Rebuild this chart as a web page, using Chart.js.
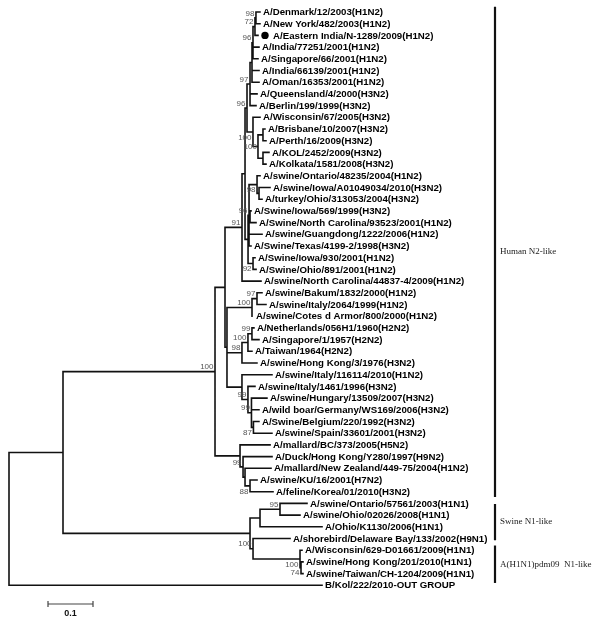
<!DOCTYPE html>
<html><head><meta charset="utf-8">
<script src="https://cdn.jsdelivr.net/npm/chart.js@4.4.1/dist/chart.umd.min.js"></script>
<style>html,body{margin:0;padding:0;background:#fff}#wrap{width:600px;height:624px;position:relative}</style>
</head><body><div id="wrap"><canvas id="c"></canvas></div>
<script>
// ---------------- data ----------------
const leafNames = [
 "A/Denmark/12/2003(H1N2)","A/New York/482/2003(H1N2)","A/Eastern India/N-1289/2009(H1N2)",
 "A/India/77251/2001(H1N2)","A/Singapore/66/2001(H1N2)","A/India/66139/2001(H1N2)",
 "A/Oman/16353/2001(H1N2)","A/Queensland/4/2000(H3N2)","A/Berlin/199/1999(H3N2)",
 "A/Wisconsin/67/2005(H3N2)","A/Brisbane/10/2007(H3N2)","A/Perth/16/2009(H3N2)",
 "A/KOL/2452/2009(H3N2)","A/Kolkata/1581/2008(H3N2)","A/swine/Ontario/48235/2004(H1N2)",
 "A/swine/Iowa/A01049034/2010(H3N2)","A/turkey/Ohio/313053/2004(H3N2)","A/Swine/Iowa/569/1999(H3N2)",
 "A/Swine/North Carolina/93523/2001(H1N2)","A/swine/Guangdong/1222/2006(H1N2)","A/Swine/Texas/4199-2/1998(H3N2)",
 "A/Swine/Iowa/930/2001(H1N2)","A/Swine/Ohio/891/2001(H1N2)","A/swine/North Carolina/44837-4/2009(H1N2)",
 "A/swine/Bakum/1832/2000(H1N2)","A/swine/Italy/2064/1999(H1N2)","A/swine/Cotes d Armor/800/2000(H1N2)",
 "A/Netherlands/056H1/1960(H2N2)","A/Singapore/1/1957(H2N2)","A/Taiwan/1964(H2N2)",
 "A/swine/Hong Kong/3/1976(H3N2)","A/swine/Italy/116114/2010(H1N2)","A/swine/Italy/1461/1996(H3N2)",
 "A/swine/Hungary/13509/2007(H3N2)","A/wild boar/Germany/WS169/2006(H3N2)","A/Swine/Belgium/220/1992(H3N2)",
 "A/swine/Spain/33601/2001(H3N2)","A/mallard/BC/373/2005(H5N2)","A/Duck/Hong Kong/Y280/1997(H9N2)",
 "A/mallard/New Zealand/449-75/2004(H1N2)","A/swine/KU/16/2001(H7N2)","A/feline/Korea/01/2010(H3N2)",
 "A/swine/Ontario/57561/2003(H1N1)","A/swine/Ohio/02026/2008(H1N1)","A/Ohio/K1130/2006(H1N1)",
 "A/shorebird/Delaware Bay/133/2002(H9N1)","A/Wisconsin/629-D01661/2009(H1N1)","A/swine/Hong Kong/201/2010(H1N1)",
 "A/swine/Taiwan/CH-1204/2009(H1N1)","B/Kol/222/2010-OUT GROUP"
];
// tree: leaves are indices into leafNames, internal labels are name#bootstrap, branch lengths in substitutions/site
const treeNewick = `
(
 (
  (
   (
    (
     (
      (
       (((((0:0.0089,1:0.0089)#98:0.0022,2:0.0067)#72:0.0044,3:0.0133,4:0.0111)#96:0.0022,5:0.0156,6:0.0156):0.0044,7:0.0156,8:0.0133)#97:0.0067,
       (9:0.0156,((10:0.0044,11:0.0067):0.0111,(12:0.0133,13:0.0067):0.0111)R4#100:0.0111)R3#100:0.0133
      )#96:0.0044,
      (
       ((14:0.0067,(15:0.0244,16:0.0067):0.0044)SWa#98:0.0178,(17:0.0022,18:0.0133):0.0022,19:0.0289,20:0.0044)#96:0.0022,
       (21:0.0044,22:0.0067)IO#92:0.0111
      ):0.0067
     ):0.0067,
     23:0.0422
    )#91:0.0378,
    (
     ((24:0.0111,25:0.02)#97:0.0111,26:0.0022)#100:0.0556,
     (((27:0.0044,28:0.0156)#99:0.0089,29:0.0089)#100:0.0133,30:0.0333)#98:0.0333,
     (31:0.0667,(32:0.0156,(33:0.0344,34:0.0167,(35:0.0122,36:0.0411)X3#87:0.0044)#99:0.0078)#99:0.0133):0.0333
    ):0.0044
   ):0.0222,
   (37:0.0667,(38:0.0644,(39:0.0578,(40:0.0156,41:0.0511)D#88:0.0111):0.0044)#99:0.0067):0.0556
  )#100:0.3378,
  (((42:0.06,43:0.0444)#95:0.0444,44:0.1378):0.0222,(45:0.0822,(46:0.0044,(47:0.0044,48:0.0044)R#74:0.0022)Q#100:0.1044)P#100:0.0067):0.4156
 ):0.12,
 49:0.6956
);`;
const markedLeaf = 2;
const cladeNames = ["Human N2-like", "Swine N1-like", "A(H1N1)pdm09  N1-like"];
const cladeFromRow = [-0.45, 42.05, 45.6];
const cladeToRow = [41.45, 45.15, 48.8];
const scaleBarLength = 0.1;
const scaleBarLabel = "0.1";

// ------------- label placement style -------------
const bootstrapSide = {R3:'below', R4:'mid', SWa:'below', IO:'below', X3:'below', D:'below', Q:'below', R:'below'};

// ------------- parse & layout -------------
function parseNewick(str){
  const s = str.replace(/\s+/g,'');
  let i = 0;
  function node(){
    const n = {children:[], name:'', support:null, len:0};
    if (s[i] === '('){
      i++;
      n.children.push(node());
      while (s[i] === ','){ i++; n.children.push(node()); }
      i++;
    }
    let lab = '';
    while (i < s.length && !':,);'.includes(s[i])) lab += s[i++];
    if (!n.children.length) n.leaf = parseInt(lab, 10);
    else if (lab){ const p = lab.split('#'); n.name = p[0]; if (p[1]) n.support = p[1]; }
    if (s[i] === ':'){ i++; let num=''; while (i < s.length && !',);'.includes(s[i])) num += s[i++]; n.len = parseFloat(num); }
    return n;
  }
  return node();
}
const root = parseNewick(treeNewick);
let leafCounter = 0;
const leaves = [], internals = [];
function layout(n, px){
  n.x = px + n.len;
  if (!n.children.length){ n.y = leafCounter++; leaves.push(n); }
  else {
    n.children.forEach(c => layout(c, n.x));
    n.y = (n.children[0].y + n.children[n.children.length-1].y) / 2;
    internals.push(n);
  }
}
layout(root, 0);
const pts = [];
function seg(x1,y1,x2,y2){ pts.push({x:x1,y:y1},{x:x2,y:y2},{x:x2,y:null}); }
function walk(n, parent){
  if (parent) seg(parent.x, n.y, n.x, n.y);
  if (n.children.length){
    seg(n.x, n.children[0].y, n.x, n.children[n.children.length-1].y);
    n.children.forEach(c => walk(c, n));
  }
}
walk(root, null);

// ------------- drawing of text -------------
const treeText = {
  id: 'treeText',
  afterDatasetsDraw(chart){
    const ctx = chart.ctx, xs = chart.scales.x, ys = chart.scales.y;
    ctx.save();
    // leaf labels
    ctx.fillStyle = '#000';
    ctx.font = 'bold 9.7px "Liberation Sans", Arial, sans-serif';
    ctx.textAlign = 'left'; ctx.textBaseline = 'middle';
    leaves.forEach(n => {
      const px = xs.getPixelForValue(n.x), py = ys.getPixelForValue(n.y);
      let tx = px + 3;
      if (n.leaf === markedLeaf){
        ctx.beginPath(); ctx.arc(px + 7, py, 3.7, 0, Math.PI*2); ctx.fill();
        tx = px + 15;
      }
      ctx.fillText(leafNames[n.leaf], tx, py + 0.5);
    });
    // bootstrap values
    ctx.fillStyle = '#555';
    ctx.font = '8px "Liberation Sans", Arial, sans-serif';
    ctx.textAlign = 'right';
    internals.forEach(n => {
      if (!n.support) return;
      const px = xs.getPixelForValue(n.x), py = ys.getPixelForValue(n.y);
      const side = bootstrapSide[n.name] || 'above';
      if (side === 'above'){ ctx.textBaseline = 'bottom'; ctx.fillText(n.support, px - 1.5, py - 0.5); }
      else if (side === 'below'){ ctx.textBaseline = 'top'; ctx.fillText(n.support, px - 1.5, py + 1.5); }
      else { ctx.textBaseline = 'middle'; ctx.fillText(n.support, px - 1, py); }
    });
    // clade brackets
    const bx = 495;
    ctx.strokeStyle = '#111'; ctx.lineWidth = 2.2; ctx.lineCap = 'butt';
    ctx.fillStyle = '#222';
    ctx.font = '9px "Liberation Serif", "Times New Roman", serif';
    ctx.textAlign = 'left'; ctx.textBaseline = 'middle';
    cladeNames.forEach((name, k) => {
      const y1 = ys.getPixelForValue(cladeFromRow[k]), y2 = ys.getPixelForValue(cladeToRow[k]);
      ctx.beginPath(); ctx.moveTo(bx, y1); ctx.lineTo(bx, y2); ctx.stroke();
      ctx.fillText(name, bx + 5, (y1 + y2) / 2);
    });
    // scale bar
    const sx0 = 48, sy = 604;
    const sx1 = sx0 + (xs.getPixelForValue(scaleBarLength) - xs.getPixelForValue(0));
    ctx.strokeStyle = '#444'; ctx.lineWidth = 1.2;
    ctx.beginPath();
    ctx.moveTo(sx0, sy); ctx.lineTo(sx1, sy);
    ctx.moveTo(sx0, sy - 3); ctx.lineTo(sx0, sy + 3);
    ctx.moveTo(sx1, sy - 3); ctx.lineTo(sx1, sy + 3);
    ctx.stroke();
    ctx.fillStyle = '#111';
    ctx.font = 'bold 9px "Liberation Sans", Arial, sans-serif';
    ctx.textAlign = 'center'; ctx.textBaseline = 'middle';
    ctx.fillText(scaleBarLabel, (sx0 + sx1) / 2, 614);
    ctx.restore();
  }
};

new Chart(document.getElementById('c'), {
  type: 'scatter',
  data: { datasets: [{
    data: pts, showLine: true, spanGaps: false,
    borderColor: '#111', borderWidth: 1.6, borderCapStyle: 'square',
    pointRadius: 0, pointHoverRadius: 0, fill: false
  }]},
  options: {
    animation: false, responsive: true, maintainAspectRatio: false,
    layout: { padding: 0 },
    events: [],
    scales: {
      x: { type: 'linear', display: false, min: -0.02, max: 591/450 },
      y: { type: 'linear', display: false, reverse: true, min: -12/11.7, max: 612/11.7 }
    },
    plugins: { legend: { display: false }, tooltip: { enabled: false } }
  },
  plugins: [treeText]
});
</script>
</body></html>
